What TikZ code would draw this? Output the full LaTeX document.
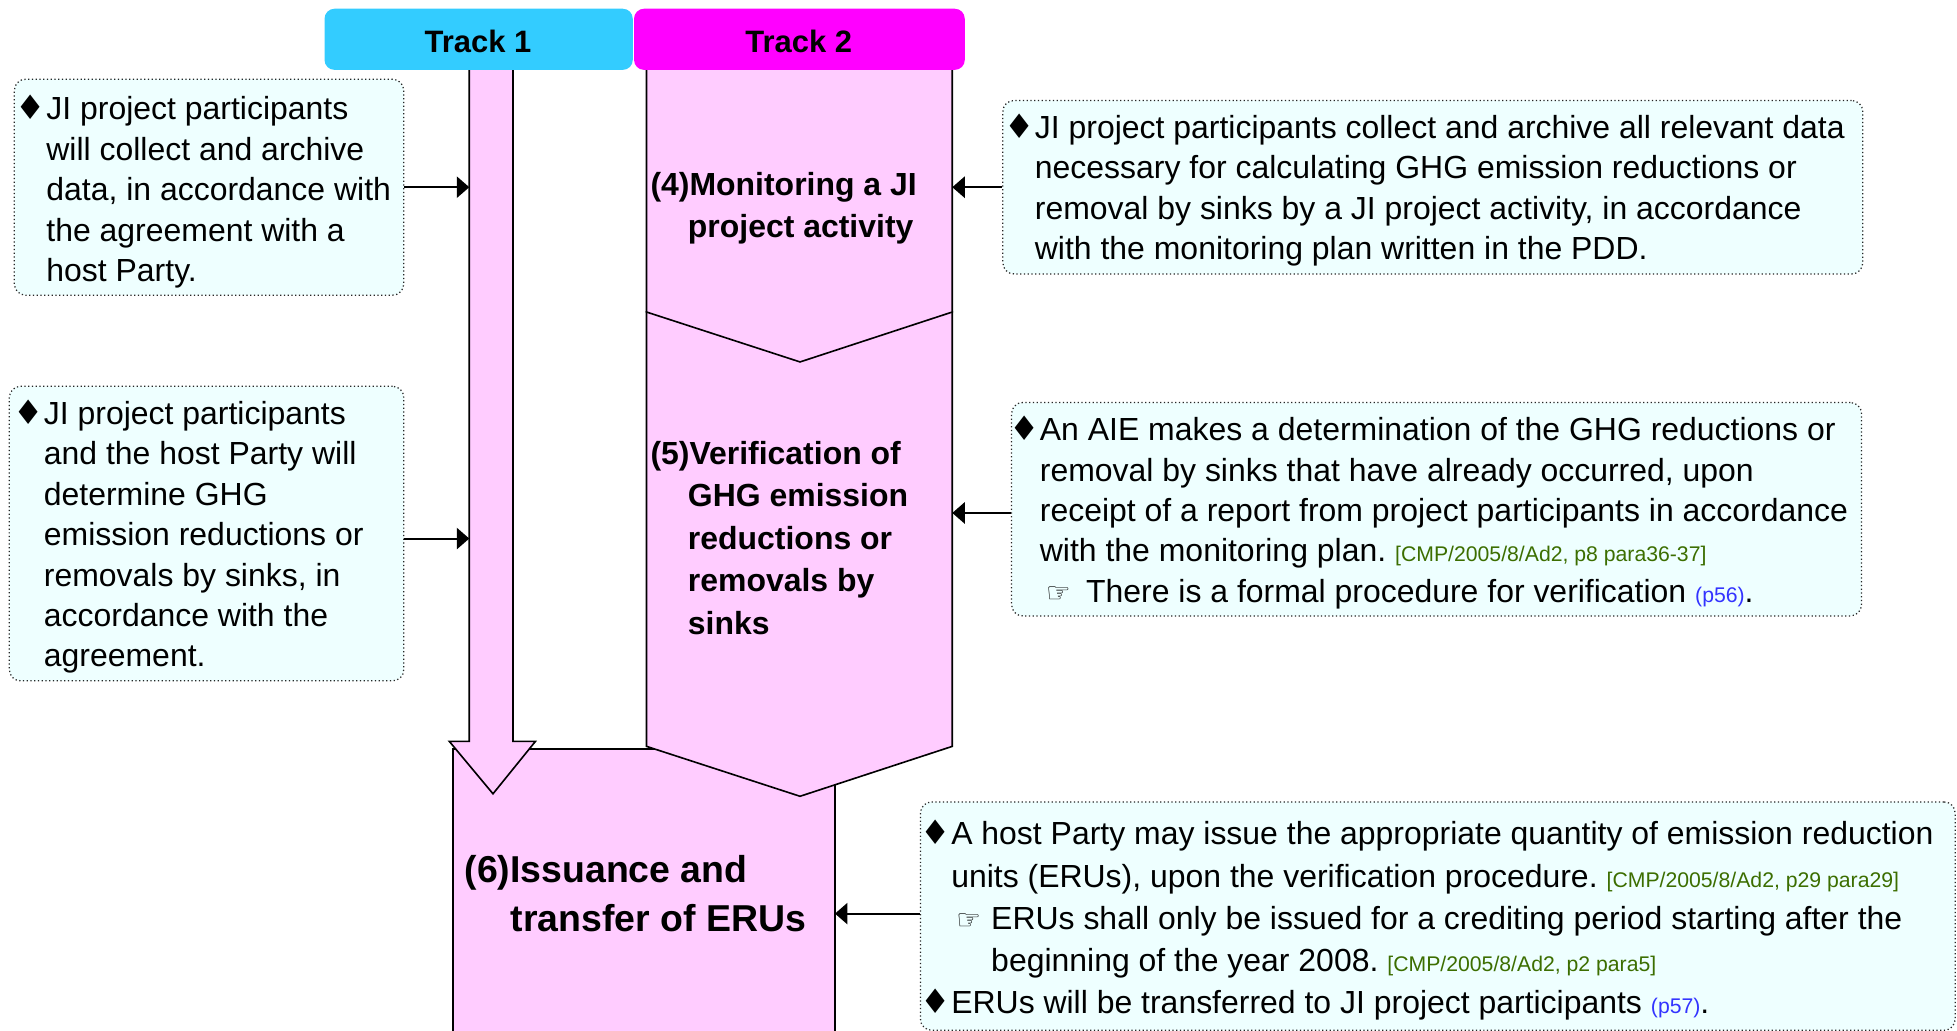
\documentclass[tikz,border=0pt]{standalone}
\usepackage{fontspec}
\setmainfont{Liberation Sans}
\newfontfamily\sym{DejaVu Sans}
\usetikzlibrary{arrows.meta}
\definecolor{boxfill}{RGB}{238,255,255}
\definecolor{pinkfill}{RGB}{255,204,255}
\definecolor{cyanhead}{RGB}{51,204,255}
\definecolor{maghead}{RGB}{255,0,255}
\definecolor{refgreen}{RGB}{60,110,0}
\definecolor{refblue}{RGB}{51,51,255}
\newcommand\bul{\leavevmode\llap{{\sym\fontsize{27}{27}\selectfont\char"2666}\hspace{0.5pt}}}
\newcommand\hand{{\sym\fontsize{22}{22}\selectfont\char"261E}}
\newcommand\refg[1]{{\color{refgreen}\fontsize{17}{17}\selectfont #1}}
\newcommand\refb[1]{{\color{refblue}\fontsize{17}{17}\selectfont #1}}
\newcommand\leftpar{\raggedright\spaceskip=0pt\xspaceskip=0pt\frenchspacing}
\frenchspacing
\begin{document}
\begin{tikzpicture}[x=1pt,y=-1pt,
  infobox/.style={draw=black!85, dotted, line width=1pt, fill=boxfill, rounded corners=9pt, inner sep=0pt, anchor=north west},
  shape6/.style={draw=black, line width=1.3pt, fill=pinkfill, line join=miter},
  arr/.style={line width=1.6pt, -{Triangle[length=10pt,width=17pt]}},
  txt/.style={anchor=base west, inner sep=0pt, text width=820pt, execute at begin node=\leftpar, font=\fontsize{25.6}{32.4}\selectfont},
  txtE/.style={txt, font=\fontsize{25.6}{33.8}\selectfont},
  steptxt/.style={anchor=base west, inner sep=0pt, text width=300pt, execute at begin node=\leftpar, font=\bfseries\fontsize{25.6}{33.5}\selectfont},
  head/.style={rounded corners=8pt, draw=none}]
\useasboundingbox (0,0) rectangle (1568,826);
\clip (0,0) rectangle (1568,826);

% step (6)
\draw[shape6] (363,600) -- (669,600) -- (669,840) -- (363,840) -- cycle;
% step (5)
\draw[shape6] (518,250) -- (763,250) -- (763,598) -- (641,638) -- (518,598) -- cycle;
% step (4)
\draw[shape6] (518,40) -- (763,40) -- (763,250) -- (641,290) -- (518,250) -- cycle;
% track 1 arrow
\draw[shape6] (376,40) -- (376,594) -- (360,594) -- (395,636) -- (429,594) -- (411,594) -- (411,40) -- cycle;

% headers
\fill[cyanhead, head] (260,7) rectangle (507,56);
\fill[maghead, head] (508,7) rectangle (773,56);
\node[font=\bfseries\fontsize{24.8}{25}\selectfont] (h1) at (383,33) {Track 1};
\node[font=\bfseries\fontsize{24.8}{25}\selectfont] (h2) at (640,33) {Track 2};

\coordinate (t1L) at (376,0);
\coordinate (t2R) at (763,0);
\coordinate (s6R) at (669,0);

% step texts
\node[steptxt] (s4) at (521,157) {(4)Monitoring a JI\\\hspace*{30pt}project activity};
\node[steptxt, font=\bfseries\fontsize{25.6}{34}\selectfont] (s5) at (521,372) {(5)Verification of\\\hspace*{30pt}GHG emission\\\hspace*{30pt}reductions or\\\hspace*{30pt}removals by\\\hspace*{30pt}sinks};
\node[steptxt, font=\bfseries\fontsize{30}{39}\selectfont] (s6) at (372,707) {(6)Issuance and\\\hspace*{37pt}transfer of ERUs};

% boxes
\node[infobox, minimum width=312pt, minimum height=173pt] (bA) at (11,63) {};
\node[infobox, minimum width=316pt, minimum height=236pt] (bB) at (7,309) {};
\node[infobox, minimum width=689pt, minimum height=139pt] (bC) at (803,80) {};
\node[infobox, minimum width=681pt, minimum height=171pt] (bD) at (810,322) {};
\node[infobox, minimum width=829pt, minimum height=183pt] (bE) at (737,642) {};

\node[txt] (tA) at (37,96) {\bul JI project participants\\will collect and archive\\data, in accordance with\\the agreement with a\\host Party.};
\node[txt] (tB) at (35,340) {\bul JI project participants\\and the host Party will\\determine GHG\\emission reductions or\\removals by sinks, in\\accordance with the\\agreement.};
\node[txt] (tC) at (829,111) {\bul JI project participants collect and archive all relevant data\\necessary for calculating GHG emission reductions or\\removal by sinks by a JI project activity, in accordance\\with the monitoring plan written in the PDD.};
\node[txt] (tD) at (833,353) {\bul An AIE makes a determination of the GHG reductions or\\removal by sinks that have already occurred, upon\\receipt of a report from project participants in accordance\\with the monitoring plan. \refg{[CMP/2005/8/Ad2, p8 para36-37]}\\\makebox[37pt][l]{\hspace{5pt}\hand}There is a formal procedure for verification \refb{(p56)}.};
\node[txtE] (tE) at (762,677) {\bul A host Party may issue the appropriate quantity of emission reduction\\units (ERUs), upon the verification procedure. \refg{[CMP/2005/8/Ad2, p29 para29]}\\\makebox[32pt][l]{\hspace{4pt}\hand}ERUs shall only be issued for a crediting period starting after the\\\hspace*{32pt}beginning of the year 2008. \refg{[CMP/2005/8/Ad2, p2 para5]}\\\bul ERUs will be transferred to JI project participants \refb{(p57)}.};

% connectors
\draw[arr] (bA.east) -- (bA.east -| t1L);
\draw[arr] ([yshift=-4pt]bB.east) -- ([yshift=-4pt]bB.east -| t1L);
\draw[arr] (bC.west) -- (bC.west -| t2R);
\draw[arr] ([yshift=-3pt]bD.west) -- ([yshift=-3pt]bD.west -| t2R);
\draw[arr] ([yshift=2pt]bE.west) -- ([yshift=2pt]bE.west -| s6R);
\end{tikzpicture}
\end{document}
